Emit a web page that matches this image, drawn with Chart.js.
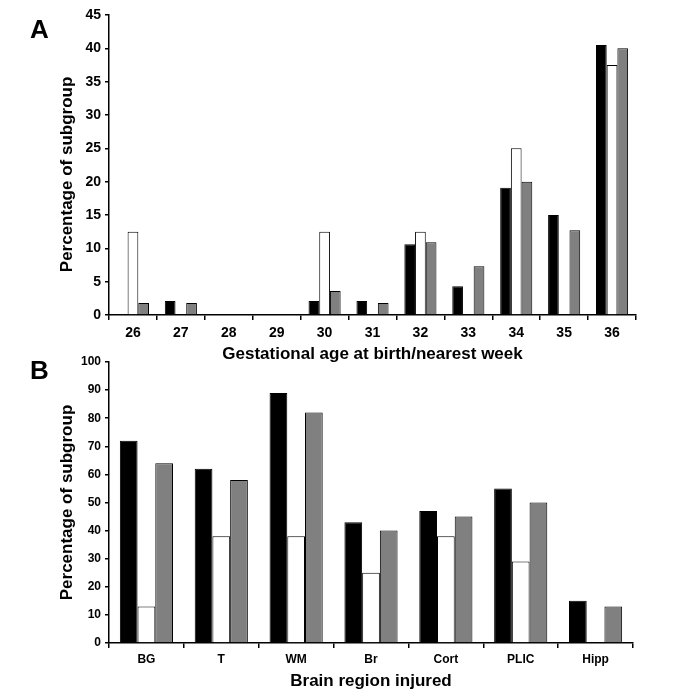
<!DOCTYPE html>
<html>
<head>
<meta charset="utf-8">
<script src="https://cdn.jsdelivr.net/npm/chart.js@4.4.1/dist/chart.umd.min.js"></script>
<style>
  body { margin: 0; background: #fff; }
  #wrap { position: relative; width: 675px; height: 700px; font-family: "Liberation Sans", Arial, sans-serif; }
  .panel { position: absolute; left: 30px; font-weight: bold; font-size: 26px; color: #000; }
  #boxA { position: absolute; left: 0; top: 0; width: 675px; height: 370px; }
  #boxB { position: absolute; left: 0; top: 345px; width: 675px; height: 355px; }
</style>
</head>
<body>
<div id="wrap">
  <div id="boxA"><canvas id="grafico1"></canvas></div>
  <div id="boxB"><canvas id="grafico2"></canvas></div>
  <div class="panel" style="top:14px">A</div>
  <div class="panel" style="top:355px">B</div>
</div>
<script>
// panel A - gestational age
const weeks = ['26', '27', '28', '29', '30', '31', '32', '33', '34', '35', '36'];
const weeksBlack = [0, 2.1, 0, 0, 2.1, 2.1, 10.6, 4.3, 19.1, 15, 40.5];
const weeksWhite = [12.5, 0, 0, 0, 12.5, 0, 12.5, 0, 25, 0, 37.5];
const weeksGray = [1.8, 1.8, 0, 0, 3.6, 1.8, 10.9, 7.3, 20, 12.7, 40];

// panel B - brain region
const regions = ['BG', 'T', 'WM', 'Br', 'Cort', 'PLIC', 'Hipp'];
const regionsBlack = [72, 62, 89, 43, 47, 55, 15];
const regionsWhite = [13, 38, 38, 25, 38, 29, 0];
const regionsGray = [64, 58, 82, 40, 45, 50, 13];

const fonte = 'Liberation Sans, Arial, sans-serif';

function barras(black, white, gray) {
    return [
        { data: black, backgroundColor: '#000', borderColor: '#000', borderWidth: 1 },
        { data: white, backgroundColor: '#fff', borderColor: '#000', borderWidth: 1 },
        { data: gray, backgroundColor: '#808080', borderColor: '#000', borderWidth: 1 }
    ];
}

function eixos(opt) {
    return {
        x: {
            grid: { display: true, drawOnChartArea: false, drawTicks: true, tickLength: 5, color: '#000', lineWidth: 1.5, offset: true },
            border: { display: true, color: '#000', width: 1.5 },
            ticks: { color: '#000', font: { family: fonte, size: opt.tick, weight: 'bold' }, padding: opt.tickPad, maxRotation: 0 },
            title: { display: true, text: opt.xTitle, color: '#000', font: { family: fonte, size: 17, weight: 'bold' }, padding: { top: 4, bottom: opt.titlePad } },
            afterFit: (s) => { s.height = opt.xHeight; }
        },
        y: {
            min: 0,
            max: opt.max,
            grid: { display: true, drawOnChartArea: false, drawTicks: true, tickLength: 4, color: '#000', lineWidth: 1.5 },
            border: { display: true, color: '#000', width: 1.5 },
            ticks: { stepSize: opt.step, color: '#000', font: { family: fonte, size: opt.tick, weight: 'bold' }, padding: 4 },
            title: { display: true, text: opt.yTitle, color: '#000', font: { family: fonte, size: 17, weight: 'bold' }, padding: { top: 57, bottom: 0 } },
            afterFit: (s) => { s.width = 109; }
        }
    };
}

new Chart(document.getElementById('grafico1'), {
    type: 'bar',
    data: { labels: weeks, datasets: barras(weeksBlack, weeksWhite, weeksGray) },
    options: {
        responsive: true,
        maintainAspectRatio: false,
        animation: false,
        categoryPercentage: 0.67,
        barPercentage: 1,
        layout: { padding: { top: 15, right: 39, left: 0, bottom: 0 } },
        plugins: { legend: { display: false }, tooltip: { enabled: false } },
        scales: eixos({ tick: 14, max: 45, step: 5, tickPad: 5, xTitle: 'Gestational age at birth/nearest week',
                        yTitle: 'Percentage of subgroup    ', xHeight: 55, titlePad: 5 })
    }
});

new Chart(document.getElementById('grafico2'), {
    type: 'bar',
    data: { labels: regions, datasets: barras(regionsBlack, regionsWhite, regionsGray) },
    options: {
        responsive: true,
        maintainAspectRatio: false,
        animation: false,
        categoryPercentage: 0.71,
        barPercentage: 1,
        layout: { padding: { top: 17, right: 42, left: 0, bottom: 0 } },
        plugins: { legend: { display: false }, tooltip: { enabled: false } },
        scales: eixos({ tick: 12, max: 100, step: 10, tickPad: 4, xTitle: 'Brain region injured',
                        yTitle: 'Percentage of subgroup', xHeight: 57, titlePad: 8 })
    }
});
</script>
</body>
</html>
